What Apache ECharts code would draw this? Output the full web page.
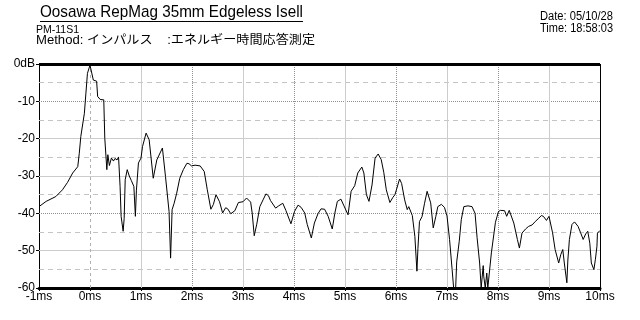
<!DOCTYPE html>
<html><head><meta charset="utf-8">
<script src="https://cdn.jsdelivr.net/npm/echarts@6/dist/echarts.min.js"></script>
<style>html,body{margin:0;padding:0;background:#fff}#c{width:640px;height:320px}</style>
</head><body><div id="c"></div>
<script>
const titleText = 'Oosawa RepMag 35mm Edgeless Isell';
const modelText = 'PM-11S1';
const methodText = 'Method: インパルス    :エネルギー時間応答測定';
const dateText = 'Date: 05/10/28';
const timeText = 'Time: 18:58:03';

const xTicks = [-1,0,1,2,3,4,5,6,7,8,9,10];
const xTickLabels = ['-1ms','0ms','1ms','2ms','3ms','4ms','5ms','6ms','7ms','8ms','9ms','10ms'];
const yTicks = [0,-10,-20,-30,-40,-50,-60];
const yTickLabels = ['0dB','-10','-20','-30','-40','-50','-60'];
const yHalfTicks = [-5,-15,-25,-35,-45,-55];
const yDottedTicks = [-10,-40];
const ySolidTicks = [-20,-30,-50];
const xSolidTicks = [1,3,5,7,9];
const xDottedTicks = [2,4,6,8];
const xDashedTicks = [0];

const times = [-1.0,-0.86,-0.67,-0.54,-0.44,-0.34,-0.24,-0.21,-0.18,-0.11,-0.08,-0.05,0.0,0.02,0.065,0.1,0.13,0.15,0.2,0.23,0.27,0.29,0.33,0.35,0.38,0.42,0.46,0.49,0.53,0.56,0.59,0.61,0.65,0.67,0.69,0.73,0.77,0.81,0.83,0.86,0.89,0.91,0.95,1.0,1.03,1.1,1.16,1.24,1.31,1.34,1.42,1.44,1.48,1.55,1.58,1.61,1.65,1.7,1.76,1.83,1.9,1.94,1.99,2.06,2.16,2.24,2.3,2.37,2.42,2.47,2.54,2.6,2.66,2.7,2.76,2.84,2.91,3.0,3.07,3.15,3.18,3.22,3.27,3.33,3.4,3.45,3.5,3.54,3.64,3.7,3.78,3.84,3.94,4.01,4.08,4.14,4.21,4.26,4.34,4.4,4.47,4.53,4.6,4.67,4.75,4.8,4.85,4.92,4.98,5.06,5.12,5.19,5.25,5.33,5.37,5.42,5.47,5.53,5.59,5.65,5.71,5.76,5.81,5.88,5.94,5.98,6.01,6.07,6.11,6.17,6.22,6.25,6.28,6.32,6.37,6.41,6.43,6.46,6.51,6.56,6.61,6.64,6.68,6.73,6.78,6.82,6.89,6.95,7.0,7.05,7.1,7.13,7.17,7.19,7.24,7.28,7.33,7.41,7.49,7.55,7.59,7.64,7.67,7.71,7.72,7.75,7.78,7.8,7.87,7.95,8.01,8.05,8.13,8.17,8.22,8.25,8.31,8.38,8.42,8.47,8.54,8.6,8.67,8.73,8.8,8.85,8.89,8.95,9.0,9.03,9.07,9.12,9.19,9.23,9.27,9.3,9.35,9.37,9.4,9.45,9.5,9.57,9.62,9.67,9.72,9.76,9.8,9.83,9.88,9.91,9.94,9.95,10.0];
const levels = [-38.2,-36.8,-35.5,-33.7,-31.7,-29.2,-27.5,-23.9,-19.4,-13.2,-7.8,-2.5,-0.3,-0.5,-4.3,-3.8,-4.6,-8.7,-9.5,-9.0,-9.6,-19.9,-28.3,-24.3,-27.2,-25.2,-26.0,-25.3,-25.7,-24.9,-32.8,-40.8,-44.8,-41.4,-31.0,-28.3,-30.0,-31.2,-30.7,-32.8,-40.8,-33.8,-26.5,-25.2,-22.1,-18.5,-20.3,-30.6,-25.7,-25.2,-22.5,-23.0,-30.1,-39.5,-52.0,-39.0,-37.3,-34.6,-30.6,-28.3,-26.6,-26.7,-27.3,-27.1,-27.3,-28.8,-33.7,-38.9,-37.6,-35.0,-36.9,-39.9,-38.5,-38.8,-40.1,-39.3,-37.1,-36.9,-35.9,-37.0,-39.9,-46.0,-42.9,-38.2,-36.2,-34.8,-35.3,-36.6,-38.6,-38.0,-37.3,-39.2,-42.8,-39.5,-37.8,-38.4,-39.9,-43.0,-46.6,-42.6,-40.1,-38.8,-38.9,-40.8,-44.2,-40.0,-36.8,-36.2,-38.0,-40.4,-34.1,-32.6,-29.2,-27.6,-29.2,-35.0,-36.8,-32.4,-25.2,-24.1,-25.6,-29.0,-33.7,-37.1,-35.7,-35.0,-35.5,-30.8,-32.0,-36.4,-39.0,-38.2,-38.0,-40.6,-46.2,-55.5,-49.4,-42.2,-40.9,-37.3,-34.1,-33.8,-37.2,-43.9,-40.9,-38.2,-37.6,-38.4,-40.7,-47.0,-55.0,-60,-60,-53.0,-47.5,-41.7,-38.2,-38.0,-38.2,-40.0,-46.5,-53.3,-60,-54.0,-56.8,-60,-56.0,-60,-50.6,-42.4,-39.5,-39.2,-39.3,-40.8,-39.2,-39.5,-42.6,-47.0,-49.3,-45.3,-44.2,-43.5,-43.1,-42.2,-41.3,-40.6,-40.8,-41.9,-40.8,-41.2,-45.2,-49.7,-53.3,-51.1,-49.7,-53.3,-58.6,-52.5,-47.0,-43.0,-42.3,-43.5,-45.2,-47.0,-45.5,-44.8,-48.0,-53.3,-55.1,-52.3,-48.8,-45.3,-44.6];

const FONT = '"Liberation Sans","Noto Sans CJK JP",sans-serif';
const AXFONT = '"Liberation Sans",sans-serif';

// measure helper to fit header texts to the reference widths
const mctx = document.createElement('canvas').getContext('2d');
function fitScale(text, font, target) {
  mctx.font = font;
  const w = mctx.measureText(text).width;
  return w > 0 ? target / w : 1;
}
const titleFont = '17px ' + FONT;
const smallFont = '11px ' + FONT;
const methodFont = '12px ' + FONT;

const chart = echarts.init(document.getElementById('c'), null, {renderer:'canvas'});

function lineGroup(key, vals, style, z) {
  return {type: 'line', data: [], z: z, silent: true,
    markLine: {silent: true, symbol: 'none', label: {show: false}, animation: false,
      lineStyle: style,
      data: vals.map(v => ({[key]: v}))}};
}

const option = {
  animation: false,
  backgroundColor: '#fff',
  grid: {left: 39, right: 40, top: 64, bottom: 32, show: false},
  xAxis: {
    type: 'value', min: xTicks[0], max: xTicks[xTicks.length-1], interval: 1,
    axisLine: {show: true, onZero: false, lineStyle: {color:'#000', width: 3}},
    axisTick: {show: true, length: 3, lineStyle: {color:'#000'}},
    axisLabel: {color:'#000', fontFamily: AXFONT, fontSize: 12, margin: 3,
      formatter: v => xTickLabels[xTicks.indexOf(Math.round(v))] || ''},
    splitLine: {show: false}
  },
  yAxis: {
    type: 'value', min: -60, max: 0, interval: 10,
    axisLine: {show: true, onZero: false, lineStyle: {color:'#000', width: 1}},
    axisTick: {show: true, length: 3, lineStyle: {color:'#000'}},
    axisLabel: {color:'#000', fontFamily: AXFONT, fontSize: 12, margin: 4,
      formatter: v => yTickLabels[yTicks.indexOf(Math.round(v))] || ''},
    splitLine: {show: false}
  },
  series: [
    lineGroup('yAxis', yHalfTicks, {color:'#c4c4c4', width:1, type:[5,4]}, 1),
    lineGroup('yAxis', ySolidTicks, {color:'#cccccc', width:1, type:'solid'}, 1),
    lineGroup('yAxis', yDottedTicks, {color:'#909090', width:1, type:[1,1]}, 1),
    lineGroup('xAxis', xSolidTicks, {color:'#cccccc', width:1, type:'solid'}, 1),
    lineGroup('xAxis', xDottedTicks, {color:'#909090', width:1, type:[1,1]}, 1),
    lineGroup('xAxis', xDashedTicks, {color:'#b0b0b0', width:1, type:[3,3]}, 1),
    {type: 'line', data: times.map((t, i) => [t, levels[i]]), showSymbol: false, symbol: 'none',
     lineStyle: {color:'#000', width: 1}, z: 5, clip: true},
    lineGroup('yAxis', [yTicks[0]], {color:'#000', width:3, type:'solid'}, 6),
    lineGroup('xAxis', [xTicks[xTicks.length-1]], {color:'#000', width:1, type:'solid'}, 6)
  ],
  graphic: [
    {type:'text', x: 40, y: 4, scaleX: fitScale(titleText, titleFont, 263),
     style:{text: titleText, fill:'#000', font: titleFont}},
    {type:'rect', x: 40, y: 21, shape:{width: 263, height: 1}, style:{fill:'#000'}},
    {type:'text', x: 36, y: 24, scaleX: fitScale(modelText, smallFont, 43),
     style:{text: modelText, fill:'#000', font: smallFont}},
    {type:'text', x: 36, y: 35, scaleX: fitScale(methodText, methodFont, 279),
     style:{text: methodText, fill:'#000', font: methodFont}},
    {type:'text', x: 540, y: 11, scaleX: fitScale(dateText, methodFont, 73),
     style:{text: dateText, fill:'#000', font: methodFont}},
    {type:'text', x: 540, y: 23, scaleX: fitScale(timeText, methodFont, 73),
     style:{text: timeText, fill:'#000', font: methodFont}}
  ]
};
chart.setOption(option);
</script>
</body></html>
